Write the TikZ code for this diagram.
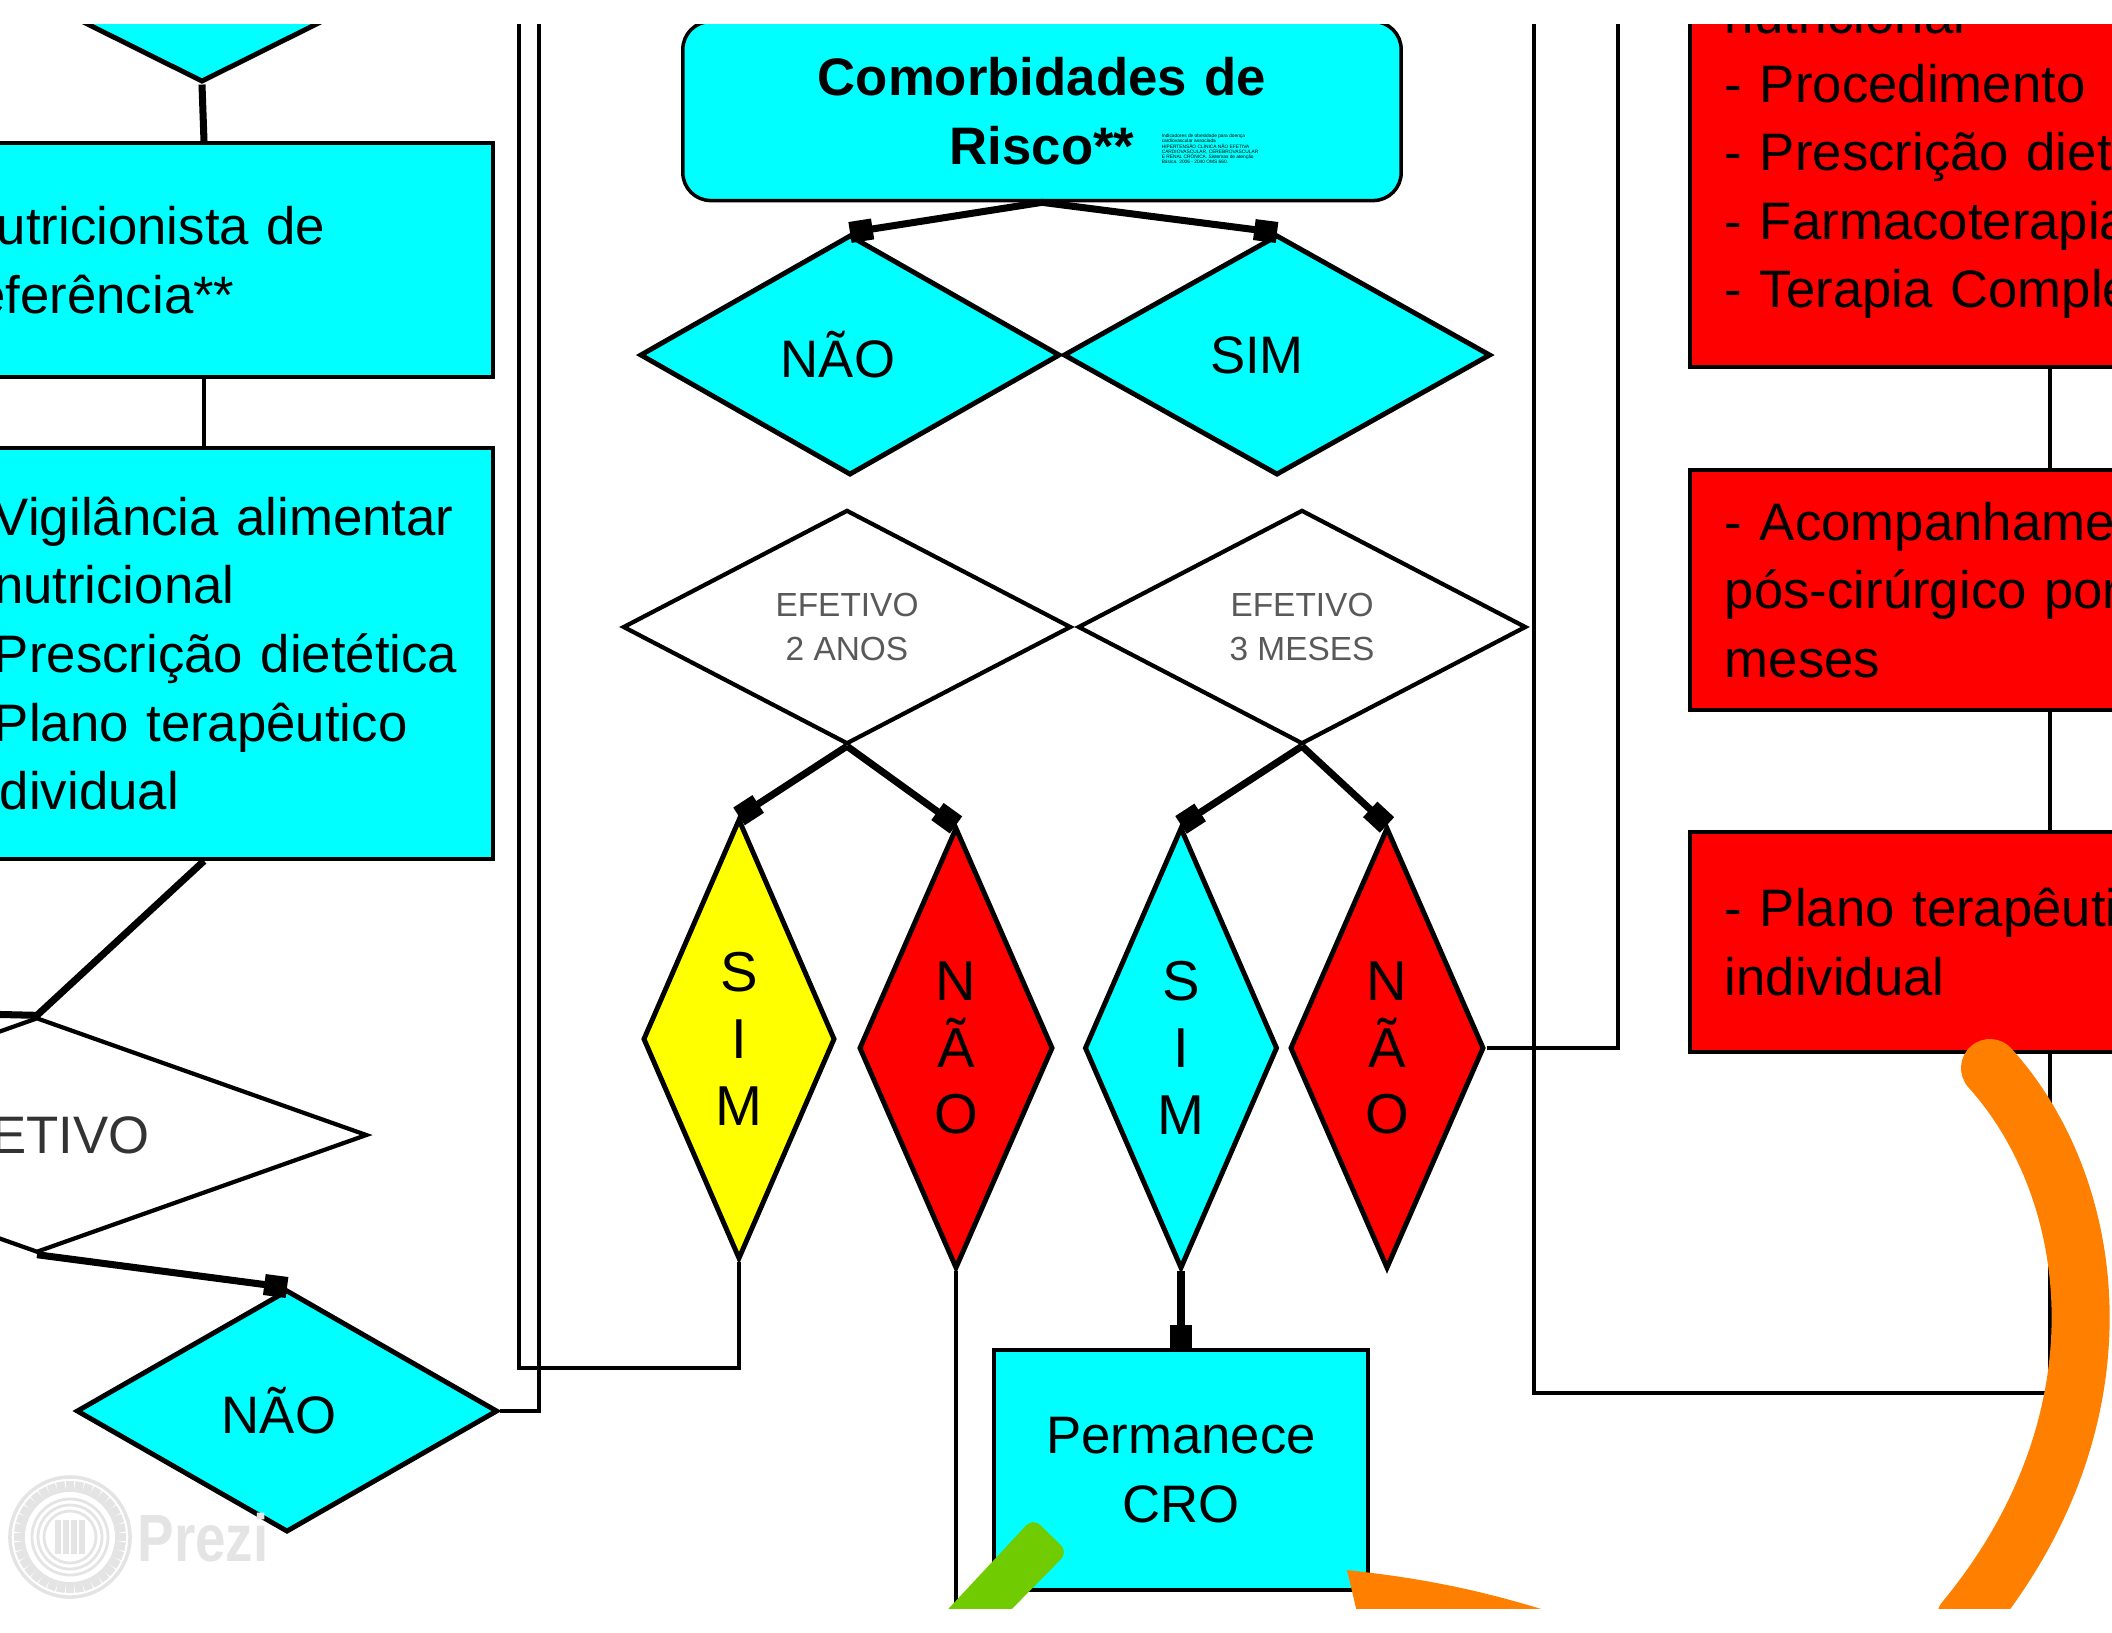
\documentclass[tikz,border=0pt]{standalone}
\usepackage{fontspec}
\setmainfont{Liberation Sans}
\usetikzlibrary{shapes.geometric,arrows.meta}
\definecolor{ciano}{RGB}{0,255,255}
\definecolor{amarelo}{RGB}{255,255,0}
\definecolor{laranja}{RGB}{255,128,0}
\definecolor{verde}{RGB}{112,204,0}
\definecolor{marca}{RGB}{228,228,228}
\tikzset{
  every node/.style={font=\fontsize{15}{19.5}\selectfont},
  caixa/.style={draw,line width=1pt,fill=ciano,rectangle,align=left,inner ysep=0pt},
  azul/.style={caixa,text width=4.9cm,inner xsep=.44cm},
  vermelha/.style={caixa,fill=red,text width=6.5cm,inner xsep=.35cm},
  losango/.style={diamond,draw,line width=1.4pt,fill=ciano,inner sep=0pt,align=center},
  branco/.style={losango,fill=white,line width=1.2pt,shape aspect=3},
  vertical/.style={losango,shape aspect=.4,font=\fontsize{16}{19}\selectfont},
  linha/.style={line width=1.1pt},
  seta/.style={line width=2pt,-{Square[length=6.5pt,width=6pt]}},
  grossa/.style={line width=2pt}
}
\begin{document}
\begin{tikzpicture}[x=.01cm,y=-.01cm]
\useasboundingbox (0,0) rectangle (2112,1632);
\clip (0,24) rectangle (2112,1608);
% coluna da esquerda
\node[losango,minimum width=4.8cm,minimum height=2.4cm] (topo) at (202,-38) {};
\node[azul,minimum height=2.34cm] (nutri) at (204,260) {Nutricionista de\\referência**};
\node[azul,minimum height=4.11cm] (vigil) at (204,653.5) {\mbox{- Vigilância alimentar}\\\phantom{- }nutricional\\\mbox{- Prescrição dietética}\\- Plano terapêutico\\individual};
\node[branco,minimum width=6.6cm,minimum height=2.35cm,text=black!80] (efetivo) at (37,1135) {EFETIVO};
\node[losango,minimum width=4.21cm,minimum height=2.42cm] (naoA) at (287,1411) {NÃO\hspace*{.16cm}};
\coordinate (fora) at (-20,1014);
\draw[grossa] (topo.south) -- (nutri.north);
\draw[linha] (nutri.south) -- (vigil.north);
\draw[grossa] (vigil.south) -- (efetivo.north) -- (fora);
\draw[seta] (efetivo.south) -- (naoA.north);
% coluna do meio
\node[caixa,rounded corners=.28cm,text width=7.18cm,inner xsep=0pt,minimum height=1.79cm,align=center,font=\fontsize{15}{19.8}\selectfont\bfseries] (comorb) at (1042,111) {Comorbidades de\\Risco**};
\node[inner sep=0pt,align=left,font=\fontsize{1.37}{1.5}\selectfont] (nota) at (1210,149) {Indicadores de obesidade para doença\\cardiovascular associada\\HIPERTENSÃO CLÍNICA NÃO EFETIVA\\CARDIOVASCULAR, CEREBROVASCULAR\\E RENAL CRÔNICA. Sistemas de atenção\\Básica. 2006 - 2040 OMS 660.};
\node[losango,minimum width=4.2cm,minimum height=2.4cm] (naoB) at (850,355) {NÃO\hspace*{.24cm}};
\node[losango,minimum width=4.27cm,minimum height=2.4cm] (simB) at (1277,355) {SIM\hspace*{.4cm}};
\node[branco,minimum width=4.48cm,minimum height=2.34cm,text=black!65,font=\fontsize{9.5}{12.4}\selectfont] (efA) at (847,627) {EFETIVO\\2 ANOS};
\node[branco,minimum width=4.48cm,minimum height=2.34cm,text=black!65,font=\fontsize{9.5}{12.4}\selectfont] (efB) at (1302,627) {EFETIVO\\3 MESES};
\node[vertical,fill=amarelo,minimum width=1.92cm,minimum height=4.4cm] (simC) at (739,1039) {S\\I\\M};
\node[vertical,fill=red,minimum width=1.94cm,minimum height=4.41cm] (naoC) at (956,1048) {N\\Ã\\O};
\node[vertical,minimum width=1.93cm,minimum height=4.41cm] (simD) at (1181,1048) {S\\I\\M};
\node[vertical,fill=red,minimum width=1.94cm,minimum height=4.41cm] (naoD) at (1387,1048) {N\\Ã\\O};
\node[caixa,text width=3.74cm,inner xsep=0pt,minimum height=2.4cm,align=center] (perm) at (1181,1470) {Permanece\\CRO};
\draw[seta] (comorb.south) -- (naoB.north);
\draw[seta] (comorb.south) -- (simB.north);
\draw[seta] (efA.south) -- (simC.north);
\draw[seta] (efA.south) -- (naoC.north);
\draw[seta] (efB.south) -- (simD.north);
\draw[seta] (efB.south) -- (naoD.north);
\draw[seta] (simD.south) -- (perm.north);
% coluna da direita
\node[vermelha,minimum height=4.2cm] (proced) at (2050,157) {nutricional\\- Procedimento\\- Prescrição dietética\\- Farmacoterapia\\- Terapia Complementar};
\node[vermelha,minimum height=2.4cm] (acomp) at (2050,590) {- Acompanhamento\\pós-cirúrgico por\\meses};
\node[vermelha,minimum height=2.2cm] (plano) at (2050,942) {- Plano terapêutico\\individual};
\draw[linha] (proced.south) -- (acomp.north);
\draw[linha] (acomp.south) -- (plano.north);
% linhas finas que saem da figura
\coordinate (subA) at (519,0);
\coordinate (subB) at (539,0);
\coordinate (subC) at (1534,0);
\coordinate (subD) at (1618,0);
\coordinate (desce) at (956,1640);
\draw[linha] (simC.south) |- (700,1368) -- (519,1368) -- (subA);
\draw[linha] (naoA.east) -| (subB);
\draw[linha] (naoC.south) -- (desce);
\draw[linha] (plano.south) |- (subC |- 0,1393) -- (subC);
\draw[linha] (naoD.east) -| (subD);
% marca
\coordinate (logo) at (70,1537);
\draw[marca,line width=1pt] (logo) circle[radius=.6cm];
\foreach \a in {0,10,...,350}
  \draw[marca,line width=2.4pt] (logo) ++(\a:.45cm) -- ++(\a:.11cm);
\foreach \r in {.38,.32,.26}
  \draw[marca,line width=.8pt] (logo) circle[radius=\r cm];
\foreach \d in {-.12,-.04,.04,.12}
  \draw[marca,line width=1.5pt] (logo) ++(\d cm,.17cm) -- ++(0,-.34cm);
\node[text=marca,xscale=.82,inner sep=0pt,font=\fontsize{19}{19}\selectfont\bfseries] (prezi) at (203,1538) {Prezi};
% marcas da apresentacao
\draw[laranja,line width=.58cm,line cap=round] (1990,1068) .. controls (2100,1190) and (2130,1420) .. (1965,1620);
\fill[laranja] (1347,1570) .. controls (1420,1578) and (1490,1590) .. (1590,1625) -- (1360,1625) -- cycle;
\fill[verde,rounded corners=.1cm] (938,1620) -- (1033,1518) -- (1068,1552) -- (1001,1620) -- cycle;
\end{tikzpicture}
\end{document}
